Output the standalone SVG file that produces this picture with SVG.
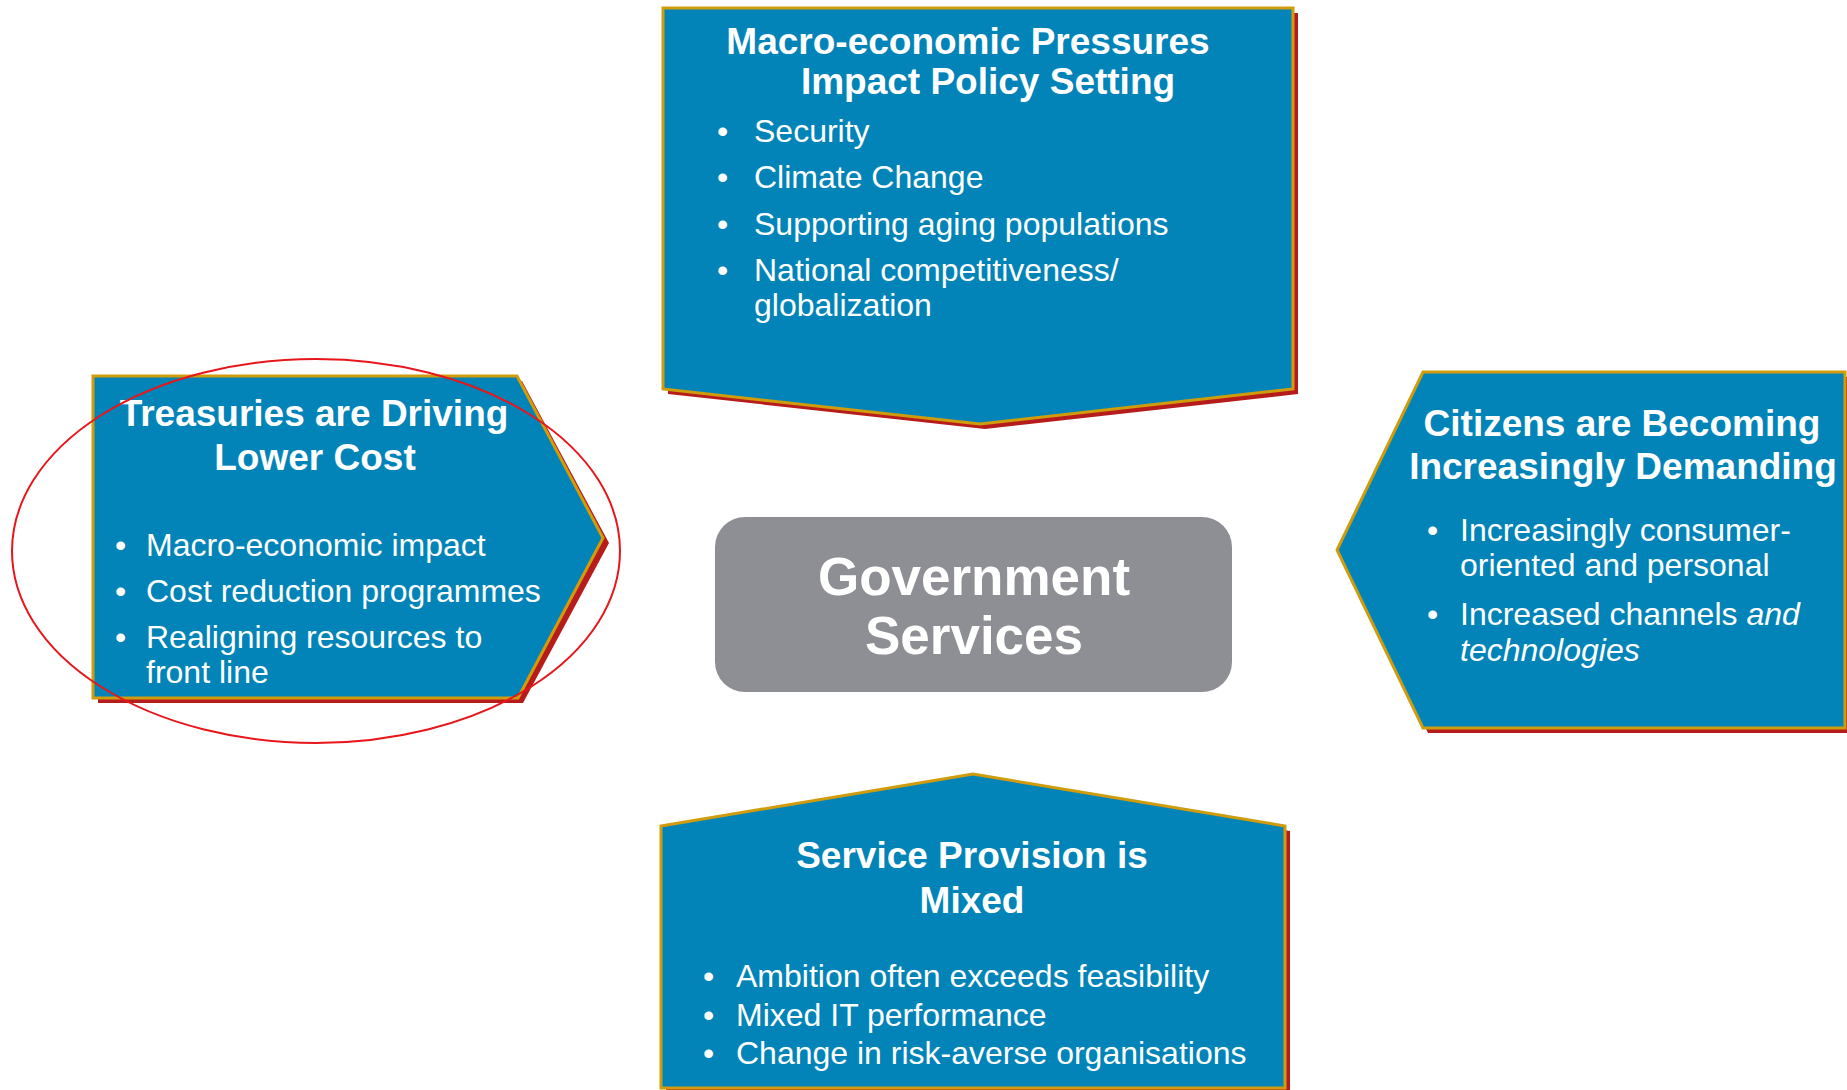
<svg xmlns="http://www.w3.org/2000/svg" width="1847" height="1090" viewBox="0 0 1847 1090">
<style>
.shadow{fill:#b71c1c;}
.box{fill:#0284b8;stroke:#d09c0c;stroke-width:3;stroke-linejoin:miter;}
.title{font-family:"Liberation Sans",Arial,sans-serif;font-weight:bold;font-size:37px;fill:#ffffff;text-anchor:middle;}
.item{font-family:"Liberation Sans",Arial,sans-serif;font-size:32px;fill:#ffffff;}
.center{font-family:"Liberation Sans",Arial,sans-serif;font-weight:bold;font-size:53px;fill:#ffffff;text-anchor:middle;}
</style>
<rect width="1847" height="1090" fill="#ffffff"/>
<g id="top-pressures">
<polygon class="shadow" points="668,13 1298,13 1298,394 985,429 668,394"/>
<polygon class="box" points="663,8 1293,8 1293,389 980,424 663,389"/>
<text class="title" x="968" y="54">Macro-economic Pressures</text>
<text class="title" x="988" y="94">Impact Policy Setting</text>
<text class="item" x="717" y="142">•</text><text class="item" x="754" y="142">Security</text>
<text class="item" x="717" y="188">•</text><text class="item" x="754" y="188">Climate Change</text>
<text class="item" x="717" y="235">•</text><text class="item" x="754" y="235">Supporting aging populations</text>
<text class="item" x="717" y="281">•</text><text class="item" x="754" y="281">National competitiveness/</text>
<text class="item" x="754" y="316">globalization</text>
</g>
<g id="left-treasuries">
<polygon class="shadow" points="98,381 522,381 609,543 523,703 98,703"/>
<polygon class="box" points="93,376 517,376 603,538 518,698 93,698"/>
<text class="title" x="314" y="426">Treasuries are Driving</text>
<text class="title" x="315" y="470">Lower Cost</text>
<text class="item" x="115" y="556">•</text><text class="item" x="146" y="556">Macro-economic impact</text>
<text class="item" x="115" y="602">•</text><text class="item" x="146" y="602">Cost reduction programmes</text>
<text class="item" x="115" y="648">•</text><text class="item" x="146" y="648">Realigning resources to</text>
<text class="item" x="146" y="683">front line</text>
</g>
<g id="right-citizens">
<polygon class="shadow" points="1428,377 1852,377 1852,733 1428,733 1342,555"/>
<polygon class="box" points="1423,372 1845,372 1845,728 1423,728 1337,550"/>
<text class="title" x="1622" y="436">Citizens are Becoming</text>
<text class="title" x="1623" y="479">Increasingly Demanding</text>
<text class="item" x="1427" y="541">•</text><text class="item" x="1460" y="541">Increasingly consumer-</text>
<text class="item" x="1460" y="576">oriented and personal</text>
<text class="item" x="1427" y="625">•</text><text class="item" x="1460" y="625">Increased channels <tspan font-style="italic">and</tspan></text>
<text class="item" x="1460" y="661" font-style="italic">technologies</text>
</g>
<g id="bottom-service">
<polygon class="shadow" points="666,831 978,779 1290,831 1290,1095 666,1095"/>
<polygon class="box" points="661,826 973,774 1285,826 1285,1088 661,1088"/>
<text class="title" x="972" y="868">Service Provision is</text>
<text class="title" x="972" y="913">Mixed</text>
<text class="item" x="703" y="987">•</text><text class="item" x="736" y="987">Ambition often exceeds feasibility</text>
<text class="item" x="703" y="1026">•</text><text class="item" x="736" y="1026">Mixed IT performance</text>
<text class="item" x="703" y="1064">•</text><text class="item" x="736" y="1064">Change in risk-averse organisations</text>
</g>
<g id="government-services">
<rect x="715" y="517" width="517" height="175" rx="30" ry="30" fill="#8e8f94"/>
<text class="center" x="974" y="595">Government</text>
<text class="center" x="974" y="654">Services</text>
</g>
<g id="highlight">
<ellipse cx="316" cy="551" rx="304" ry="192" fill="none" stroke="#e8161b" stroke-width="2"/>
</g>
<g id="connectors"></g>
</svg>
